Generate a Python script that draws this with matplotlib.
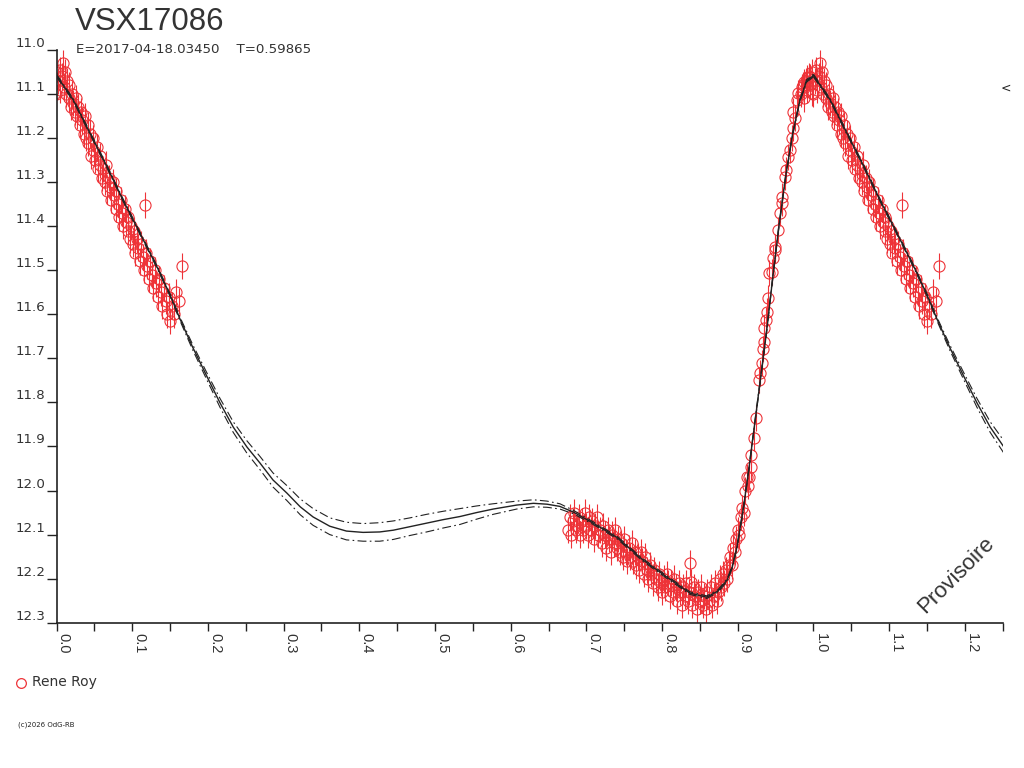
import numpy as np
import matplotlib
matplotlib.use("Agg")
import matplotlib.pyplot as plt
from matplotlib.lines import Line2D
from matplotlib.ticker import MultipleLocator, FormatStrFormatter

plt.rcParams['font.family'] = ['DejaVu Sans']

# observations, descending branch (phase 0.00 - 0.17)
phase_a = [0.002, 0.004, 0.005, 0.007, 0.008, 0.010, 0.011, 0.013, 0.014, 0.016,
           0.017, 0.019, 0.021, 0.022, 0.024, 0.026, 0.027, 0.029, 0.031, 0.032,
           0.034, 0.036, 0.037, 0.039, 0.041, 0.042, 0.044, 0.046, 0.048, 0.049,
           0.051, 0.053, 0.055, 0.057, 0.058, 0.060, 0.062, 0.064, 0.065, 0.067,
           0.069, 0.071, 0.072, 0.074, 0.076, 0.078, 0.079, 0.081, 0.083, 0.085,
           0.086, 0.088, 0.090, 0.092, 0.094, 0.095, 0.097, 0.099, 0.101, 0.103,
           0.104, 0.106, 0.108, 0.110, 0.112, 0.114, 0.116, 0.117, 0.118, 0.120,
           0.122, 0.124, 0.126, 0.128, 0.130, 0.132, 0.134, 0.136, 0.138, 0.140,
           0.142, 0.144, 0.146, 0.148, 0.150, 0.152, 0.155, 0.158, 0.162, 0.166]
mag_a = [11.07, 11.045, 11.09, 11.06, 11.03, 11.085, 11.05, 11.10, 11.07, 11.11,
         11.08, 11.13, 11.10, 11.12, 11.14, 11.11, 11.15, 11.13, 11.17, 11.14,
         11.16, 11.19, 11.15, 11.20, 11.17, 11.21, 11.19, 11.24, 11.20, 11.23,
         11.25, 11.22, 11.27, 11.24, 11.26, 11.29, 11.27, 11.30, 11.26, 11.32,
         11.29, 11.31, 11.34, 11.30, 11.33, 11.36, 11.32, 11.35, 11.38, 11.34,
         11.37, 11.40, 11.36, 11.39, 11.41, 11.38, 11.43, 11.40, 11.44, 11.41,
         11.46, 11.43, 11.45, 11.48, 11.44, 11.47, 11.50, 11.352, 11.46, 11.49,
         11.52, 11.48, 11.51, 11.54, 11.50, 11.53, 11.56, 11.52, 11.55, 11.58,
         11.54, 11.57, 11.60, 11.56, 11.615, 11.58, 11.60, 11.55, 11.57, 11.49]

# observations, minimum and rise (phase 0.67 - 1.00)
phase_b = [0.676, 0.678, 0.680, 0.682, 0.684, 0.686, 0.688, 0.690, 0.692, 0.694,
           0.696, 0.698, 0.700, 0.702, 0.704, 0.706, 0.708, 0.710, 0.712, 0.714,
           0.716, 0.718, 0.720, 0.722, 0.724, 0.726, 0.728, 0.730, 0.732, 0.734,
           0.736, 0.738, 0.740, 0.742, 0.744, 0.746, 0.748, 0.750, 0.752, 0.754,
           0.756, 0.758, 0.760, 0.762, 0.764, 0.766, 0.768, 0.770, 0.772, 0.774,
           0.776, 0.778, 0.780, 0.782, 0.784, 0.786, 0.788, 0.790, 0.792, 0.794,
           0.796, 0.798, 0.800, 0.802, 0.804, 0.806, 0.808, 0.810, 0.812, 0.814,
           0.816, 0.818, 0.820, 0.822, 0.824, 0.826, 0.828, 0.830, 0.832, 0.834,
           0.836, 0.837, 0.838, 0.840, 0.842, 0.844, 0.846, 0.848, 0.850, 0.852,
           0.854, 0.856, 0.858, 0.860, 0.862, 0.864, 0.866, 0.868, 0.870, 0.872,
           0.874, 0.876, 0.878, 0.880, 0.882, 0.884, 0.886, 0.888, 0.890, 0.892,
           0.894, 0.896, 0.898, 0.900, 0.902, 0.904, 0.906, 0.908, 0.910, 0.912,
           0.914, 0.915, 0.917, 0.918, 0.921, 0.924, 0.928, 0.930, 0.932, 0.933,
           0.935, 0.935, 0.937, 0.938, 0.940, 0.941, 0.945, 0.947, 0.949, 0.949,
           0.953, 0.956, 0.958, 0.958, 0.962, 0.964, 0.966, 0.969, 0.972, 0.973,
           0.973, 0.975, 0.978, 0.980, 0.983, 0.985, 0.986, 0.987, 0.988, 0.990,
           0.991, 0.992, 0.994, 0.995, 0.996, 0.998, 0.998, 0.999]
mag_b = [12.09, 12.06, 12.10, 12.07, 12.05, 12.09, 12.08, 12.06, 12.10, 12.07,
         12.09, 12.05, 12.08, 12.10, 12.06, 12.09, 12.07, 12.11, 12.08, 12.06,
         12.10, 12.09, 12.12, 12.08, 12.10, 12.13, 12.09, 12.11, 12.14, 12.10,
         12.12, 12.09, 12.13, 12.11, 12.14, 12.12, 12.15, 12.11, 12.14, 12.16,
         12.13, 12.15, 12.12, 12.16, 12.14, 12.17, 12.15, 12.18, 12.14, 12.16,
         12.19, 12.15, 12.18, 12.20, 12.17, 12.19, 12.21, 12.18, 12.20, 12.22,
         12.19, 12.21, 12.23, 12.20, 12.22, 12.19, 12.21, 12.24, 12.21, 12.23,
         12.20, 12.22, 12.25, 12.21, 12.23, 12.26, 12.22, 12.24, 12.21, 12.25,
         12.23, 12.165, 12.208, 12.26, 12.22, 12.24, 12.27, 12.23, 12.25, 12.22,
         12.26, 12.24, 12.27, 12.23, 12.25, 12.22, 12.26, 12.24, 12.21, 12.25,
         12.23, 12.20, 12.22, 12.19, 12.21, 12.18, 12.20, 12.17, 12.15, 12.17,
         12.13, 12.14, 12.11, 12.09, 12.10, 12.06, 12.04, 12.05, 12.00, 11.97,
         11.99, 11.969, 11.947, 11.919, 11.881, 11.835, 11.749, 11.733, 11.711, 11.679,
         11.663, 11.631, 11.613, 11.594, 11.563, 11.506, 11.504, 11.472, 11.454, 11.447,
         11.409, 11.37, 11.347, 11.333, 11.288, 11.272, 11.243, 11.227, 11.20, 11.177,
         11.14, 11.154, 11.114, 11.098, 11.10, 11.084, 11.08, 11.073, 11.11, 11.07,
         11.064, 11.09, 11.06, 11.061, 11.08, 11.05, 11.098, 11.10]

mag_err = 0.03

# fitted light curve and its uncertainty
fit_phase = [0.000, 0.022, 0.044, 0.067, 0.088, 0.110, 0.133, 0.150, 0.163, 0.180,
             0.199, 0.216, 0.2335, 0.2515, 0.269, 0.286, 0.3045, 0.322, 0.339, 0.361,
             0.383, 0.405, 0.427, 0.445, 0.467, 0.489, 0.511, 0.533, 0.555, 0.577,
             0.608, 0.630, 0.648, 0.665, 0.683, 0.709, 0.740, 0.775, 0.806, 0.837,
             0.859, 0.874, 0.886, 0.893, 0.899, 0.907, 0.914, 0.920, 0.929, 0.938,
             0.946, 0.954, 0.963, 0.972, 0.982, 0.991, 1.000]
fit_mag = [11.058, 11.113, 11.188, 11.266, 11.341, 11.415, 11.493, 11.556, 11.610, 11.675,
           11.742, 11.801, 11.856, 11.901, 11.938, 11.976, 12.006, 12.037, 12.060, 12.081,
           12.092, 12.095, 12.094, 12.090, 12.082, 12.074, 12.066, 12.059, 12.050, 12.042,
           12.033, 12.029, 12.031, 12.036, 12.049, 12.074, 12.106, 12.158, 12.196, 12.233,
           12.242, 12.228, 12.203, 12.172, 12.128, 12.045, 11.960, 11.880, 11.760, 11.640,
           11.520, 11.405, 11.290, 11.195, 11.115, 11.070, 11.058]
fit_sig = [0.003, 0.003, 0.003, 0.003, 0.003, 0.003, 0.003, 0.003, 0.004, 0.006,
           0.008, 0.010, 0.012, 0.014, 0.015, 0.016, 0.017, 0.018, 0.019, 0.019,
           0.020, 0.020, 0.021, 0.021, 0.020, 0.020, 0.019, 0.018, 0.015, 0.012,
           0.009, 0.008, 0.007, 0.006, 0.004, 0.003, 0.003, 0.003, 0.003, 0.003,
           0.003, 0.003, 0.003, 0.003, 0.003, 0.003, 0.003, 0.003, 0.003, 0.003,
           0.003, 0.003, 0.003, 0.003, 0.003, 0.003, 0.003]

ph = np.array(phase_a + phase_b)
mg = np.array(mag_a + mag_b)
fp = np.array(fit_phase)
fm = np.array(fit_mag)
fs = np.array(fit_sig)

red = '#ee3338'
dark = '#222222'
txt = '#333333'

fig = plt.figure(figsize=(10.24, 7.68), dpi=100)
ax = fig.add_axes([56.5 / 1024, 1 - 622.7 / 768, 946.2 / 1024, 572.7 / 768])

# points repeated one cycle either side
for k in (-1, 0, 1):
    ax.errorbar(ph + k, mg, yerr=mag_err, fmt='o', ms=8, mfc='none', mec=red,
                mew=0.8, ecolor=red, elinewidth=0.8, capsize=0, zorder=2)
for k in (-1, 0, 1):
    ax.plot(fp + k, fm, color=dark, lw=1.0, zorder=3)
    ax.plot(fp + k, fm - fs, color=dark, lw=0.8, ls=(0, (8, 3, 1.5, 3)), zorder=3)
    ax.plot(fp + k, fm + fs, color=dark, lw=0.8, ls=(0, (8, 3, 1.5, 3)), zorder=3)

ax.set_xlim(0, 1.25)
ax.set_ylim(12.3, 11.0)
for s in ('top', 'right'):
    ax.spines[s].set_visible(False)
for s in ('left', 'bottom'):
    ax.spines[s].set_color(dark)
    ax.spines[s].set_linewidth(1.2)

ax.yaxis.set_major_locator(MultipleLocator(0.1))
ax.yaxis.set_major_formatter(FormatStrFormatter('%.1f'))
ax.xaxis.set_major_locator(MultipleLocator(0.1))
ax.xaxis.set_minor_locator(MultipleLocator(0.05))
ax.xaxis.set_major_formatter(FormatStrFormatter('%.1f'))
ax.tick_params(axis='y', direction='out', length=7, width=1, color=dark,
               labelsize=9.6, labelcolor=txt, pad=1)
ax.tick_params(axis='x', which='both', direction='out', length=6, width=1, color=dark,
               labelsize=9.6, labelcolor=txt, pad=1.5)
for t in ax.get_yticklabels():
    t.set_verticalalignment('bottom')
for t in ax.get_xticklabels():
    t.set_rotation(-90)
    t.set_horizontalalignment('left')
    t.set_verticalalignment('top')
    t.set_fontfamily('Liberation Sans')
    t.set_fontsize(10.5)

fig.text(75 / 1024, 1 - 29.5 / 768, 'VSX17086', fontsize=22.5, color=txt,
         va='baseline', family='Liberation Sans')
fig.text(76 / 1024, 1 - 53 / 768, 'E=2017-04-18.03450    T=0.59865', fontsize=9.6,
         color=txt, va='baseline')
fig.text(1006 / 1024, 1 - 88 / 768, '<', fontsize=9, color=dark, ha='center', va='center')
fig.text(956 / 1024, 1 - 575 / 768, 'Provisoire', fontsize=16, color=txt,
         rotation=45, ha='center', va='center', family='Liberation Sans')

fig.add_artist(Line2D([21 / 1024], [1 - 683 / 768], marker='o', ms=7, mfc='none',
                      mec=red, mew=0.9, ls='none', transform=fig.transFigure))
fig.text(32 / 1024, 1 - 682 / 768, 'Rene Roy', fontsize=10, color=txt, va='center')
fig.text(18 / 1024, 1 - 725 / 768, '(c)2026 OdG-RB', fontsize=5, color=dark, va='center')

fig.savefig('out.png', dpi=100, facecolor='white')
